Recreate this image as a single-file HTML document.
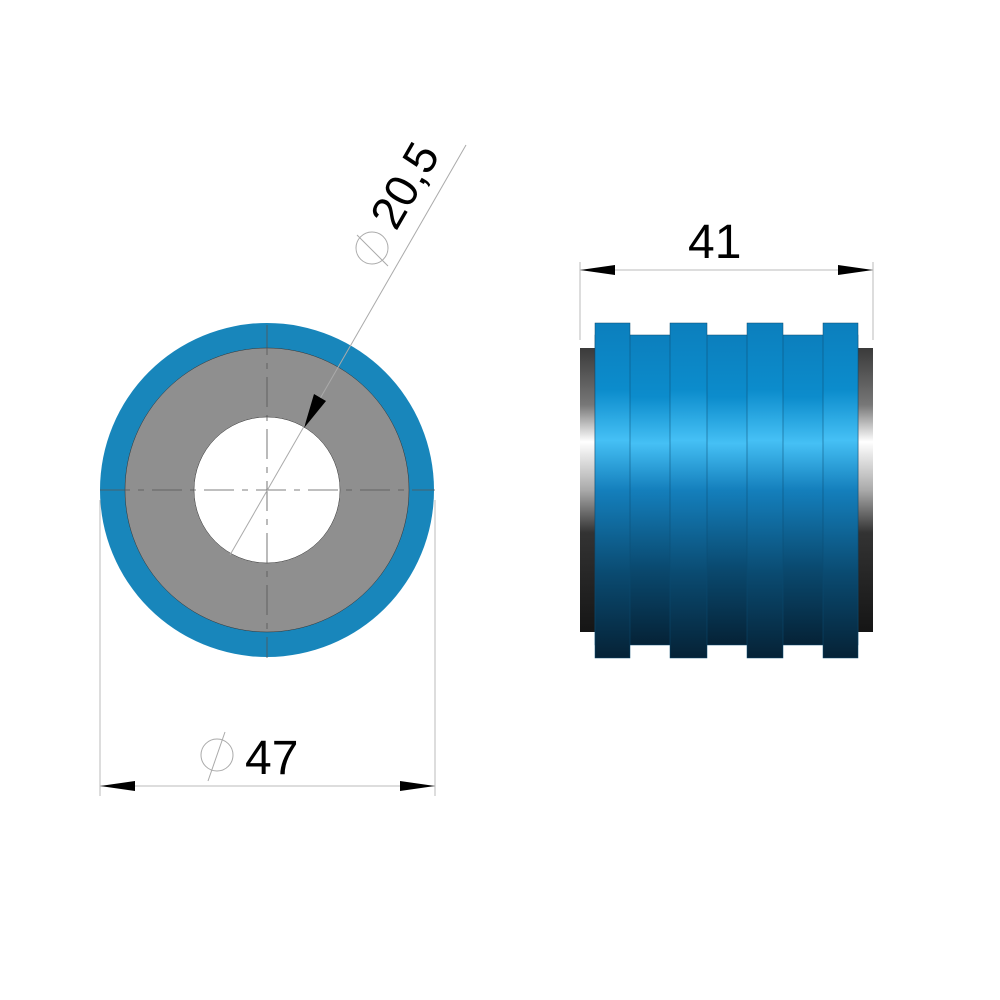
<!DOCTYPE html>
<html><head><style>html,body{margin:0;padding:0;background:#fff}svg{display:block}</style></head>
<body>
<svg width="1000" height="1000" viewBox="0 0 1000 1000" xmlns="http://www.w3.org/2000/svg">
<defs>
<linearGradient id="bl" x1="0" y1="0" x2="0" y2="1">
<stop offset="0" stop-color="#0c7fbd"/>
<stop offset="0.2" stop-color="#0c8ccc"/>
<stop offset="0.35" stop-color="#45c0f5"/>
<stop offset="0.5" stop-color="#147fbc"/>
<stop offset="0.75" stop-color="#0a4a70"/>
<stop offset="1" stop-color="#052236"/>
</linearGradient>
<linearGradient id="mt" x1="0" y1="0" x2="0" y2="1">
<stop offset="0" stop-color="#3a3a3a"/>
<stop offset="0.2" stop-color="#777"/>
<stop offset="0.33" stop-color="#fff"/>
<stop offset="0.5" stop-color="#aaa"/>
<stop offset="0.65" stop-color="#333"/>
<stop offset="1" stop-color="#151515"/>
</linearGradient>
</defs>
<!-- left view -->
<circle cx="267" cy="490" r="167" fill="#1886bb"/>
<circle cx="267" cy="490" r="142" fill="#8f8f8f" stroke="#333" stroke-width="0.5"/>
<circle cx="267" cy="490" r="73" fill="#fff" stroke="#333" stroke-width="0.5"/>
<g stroke="#555" stroke-width="0.8" stroke-dasharray="30,8,6,8">
<line x1="100" y1="490" x2="435" y2="490"/>
<line x1="267" y1="325" x2="267" y2="658"/>
</g>
<line x1="230" y1="555" x2="466" y2="145" stroke="#aaa" stroke-width="1"/>
<polygon points="304,428 314,394 326,401" fill="#000"/>
<!-- phi 20,5 -->
<circle cx="372" cy="248" r="16" fill="none" stroke="#aaa" stroke-width="1"/>
<line x1="357" y1="235" x2="388" y2="266" stroke="#aaa" stroke-width="1"/>
<text transform="translate(396,232) rotate(-60)" font-family="Liberation Sans, sans-serif" font-size="46" fill="#000">20,5</text>
<!-- 47 dim -->
<line x1="100" y1="500" x2="100" y2="796" stroke="#bbb" stroke-width="1"/>
<line x1="435" y1="500" x2="435" y2="796" stroke="#bbb" stroke-width="1"/>
<line x1="100" y1="786" x2="435" y2="786" stroke="#bbb" stroke-width="1"/>
<polygon points="100,786 135,781 135,791" fill="#000"/>
<polygon points="435,786 400,781 400,791" fill="#000"/>
<circle cx="217" cy="755" r="16" fill="none" stroke="#aaa" stroke-width="1"/>
<line x1="208" y1="781" x2="225" y2="732" stroke="#aaa" stroke-width="1"/>
<text x="245" y="774" font-family="Liberation Sans, sans-serif" font-size="48" fill="#000">47</text>
<!-- right view -->
<rect x="580" y="348" width="293" height="284" fill="url(#mt)"/>
<rect x="595" y="335" width="263" height="310" fill="url(#bl)" stroke="#0a4a70" stroke-width="0.5"/>
<g fill="url(#bl)" stroke="#0a4a70" stroke-width="0.5">
<rect x="595" y="323" width="35" height="335"/>
<rect x="670" y="323" width="37" height="335"/>
<rect x="747" y="323" width="36" height="335"/>
<rect x="823" y="323" width="35" height="335"/>
</g>
<line x1="580" y1="262" x2="580" y2="340" stroke="#bbb" stroke-width="1"/>
<line x1="873" y1="262" x2="873" y2="340" stroke="#bbb" stroke-width="1"/>
<line x1="580" y1="270" x2="873" y2="270" stroke="#bbb" stroke-width="1"/>
<polygon points="580,270 615,265 615,275" fill="#000"/>
<polygon points="873,270 838,265 838,275" fill="#000"/>
<text x="688" y="258" font-family="Liberation Sans, sans-serif" font-size="48" fill="#000">41</text>
</svg>
</body></html>
